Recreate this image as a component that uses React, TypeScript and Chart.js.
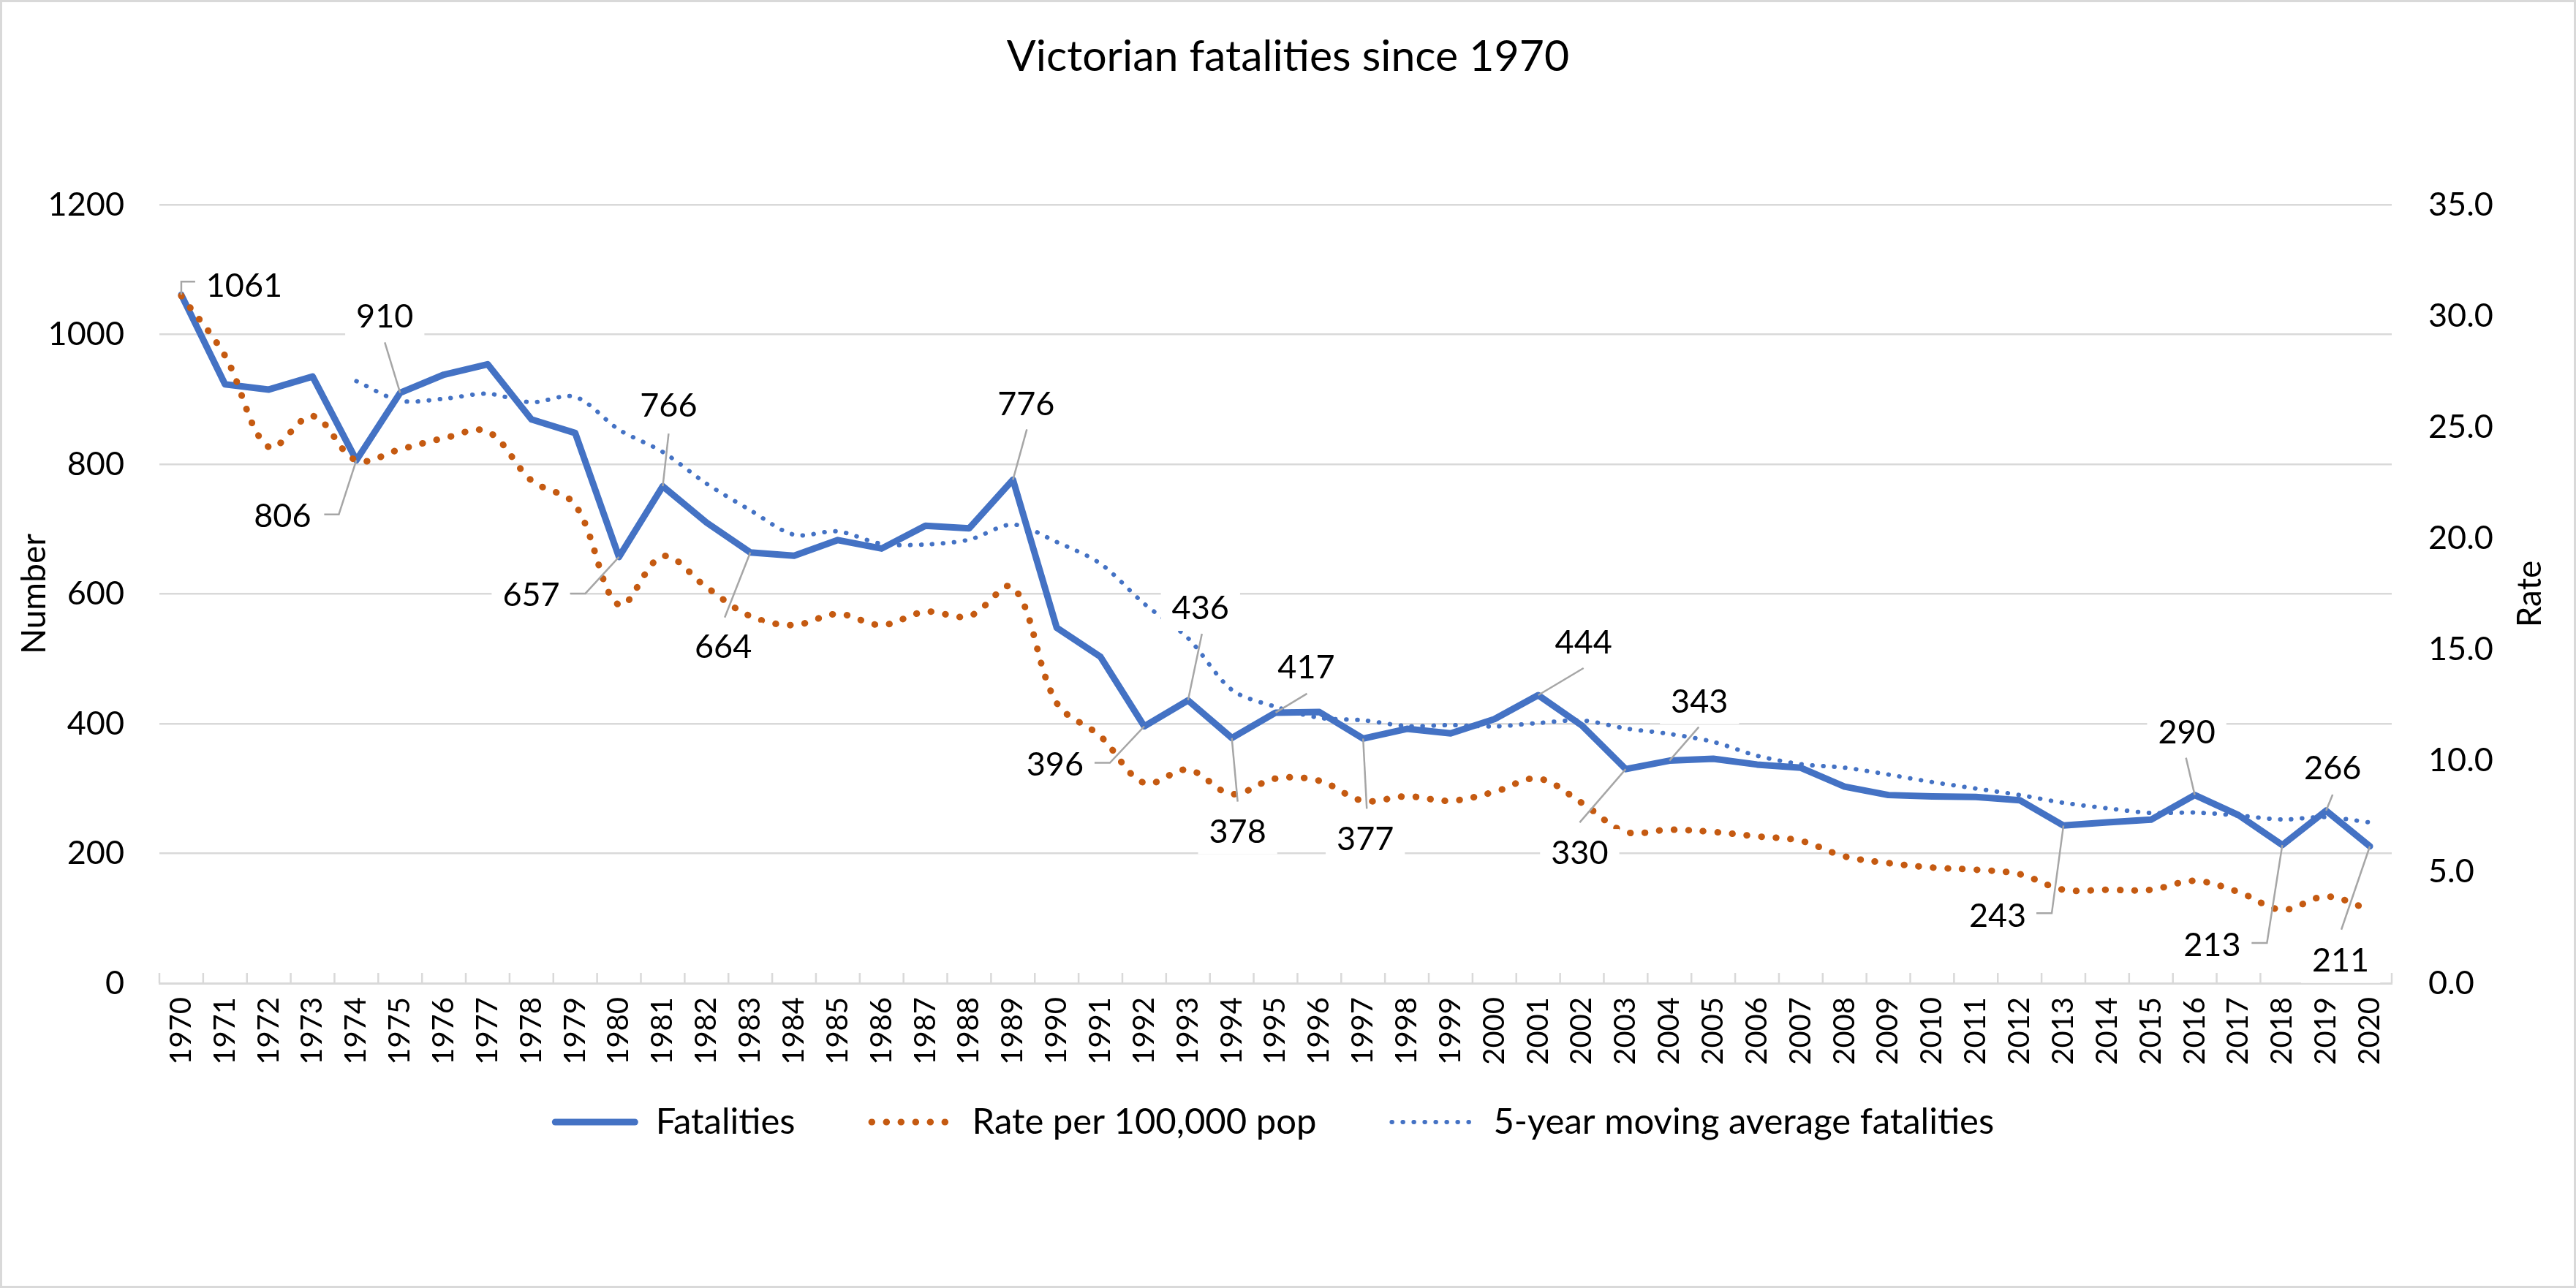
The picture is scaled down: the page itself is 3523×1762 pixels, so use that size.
import React, { useEffect, useRef } from 'react';
import { Chart, registerables } from 'chart.js';

Chart.register(...registerables);

// ---------- data ----------
const years = [
  '1970', '1971', '1972', '1973', '1974', '1975', '1976', '1977', '1978', '1979',
  '1980', '1981', '1982', '1983', '1984', '1985', '1986', '1987', '1988', '1989',
  '1990', '1991', '1992', '1993', '1994', '1995', '1996', '1997', '1998', '1999',
  '2000', '2001', '2002', '2003', '2004', '2005', '2006', '2007', '2008', '2009',
  '2010', '2011', '2012', '2013', '2014', '2015', '2016', '2017', '2018', '2019', '2020',
];

const fatalities = [
  1061, 923, 915, 935, 806, 910, 938, 954, 869, 848,
  657, 766, 710, 664, 659, 683, 670, 705, 701, 776,
  548, 503, 396, 436, 378, 417, 418, 377, 392, 385,
  407, 444, 397, 330, 343, 346, 337, 332, 303, 290,
  288, 287, 282, 243, 248, 252, 290, 259, 213, 266, 211,
];

const ratePer100k = [
  30.9, 28.2, 24.1, 25.5, 23.5, 24.0, 24.5, 24.8, 22.6, 21.5,
  17.0, 19.2, 17.8, 16.5, 16.1, 16.6, 16.1, 16.7, 16.5, 17.8,
  12.6, 11.1, 9.0, 9.6, 8.5, 9.2, 9.1, 8.2, 8.4, 8.2,
  8.6, 9.2, 8.1, 6.8, 6.9, 6.8, 6.6, 6.4, 5.7, 5.4,
  5.2, 5.1, 4.9, 4.2, 4.2, 4.2, 4.6, 4.1, 3.3, 3.9, 3.3,
];

const movingAverage5yr = [
  null, null, null, null, 928.0, 897.8, 900.8, 908.6, 895.4, 903.8,
  853.2, 818.8, 770.0, 729.0, 691.2, 696.4, 677.2, 676.2, 683.6, 707.0,
  680.0, 646.6, 584.8, 531.8, 452.2, 426.0, 409.0, 405.2, 396.4, 397.8,
  395.8, 401.0, 405.0, 392.6, 384.2, 372.0, 350.6, 337.6, 332.2, 321.6,
  310.0, 300.0, 290.0, 278.0, 269.6, 262.4, 263.0, 258.4, 252.4, 256.0, 247.8,
];

const labelledYears = [
  '1970', '1974', '1975', '1980', '1981', '1983', '1989', '1992', '1993', '1994',
  '1995', '1997', '2001', '2003', '2004', '2013', '2016', '2018', '2019', '2020',
];

// ---------- layout / style (not data) ----------
const FONT = 'Lato';
const BLUE = '#4472C4';
const ORANGE = '#C55A11';
const GRID = '#D9D9D9';

// label centre offset from its point (px) and leader polyline (offsets from point)
const labelLayout: { dx: number; dy: number; leader: number[][] }[] = [
  { dx: 86, dy: -14, leader: [[0, -18], [19, -18]] },
  { dx: -101, dy: 75, leader: [[-24, 74], [-44, 74]] },
  { dx: -21, dy: -106, leader: [[-21, -69]] },
  { dx: -120, dy: 51, leader: [[-46, 50], [-67, 50]] },
  { dx: 8, dy: -111, leader: [[8, -72]] },
  { dx: -37, dy: 128, leader: [[-35, 89]] },
  { dx: 18, dy: -105, leader: [[19, -69]] },
  { dx: -122, dy: 51, leader: [[-47, 50], [-68, 50]] },
  { dx: 17, dy: -127, leader: [[19, -91]] },
  { dx: 8, dy: 127, leader: [[8, 87]] },
  { dx: 42, dy: -63, leader: [[43, -26]] },
  { dx: 3, dy: 136, leader: [[5, 96]] },
  { dx: 62, dy: -73, leader: [[62, -37]] },
  { dx: -63, dy: 114, leader: [[-63, 73]] },
  { dx: 41, dy: -82, leader: [[40, -46]] },
  { dx: -90, dy: 122, leader: [[-16, 120], [-37, 120]] },
  { dx: -11, dy: -87, leader: [[-12, -51]] },
  { dx: -96, dy: 136, leader: [[-21, 134], [-42, 134]] },
  { dx: 9, dy: -59, leader: [[9, -22]] },
  { dx: -40, dy: 155, leader: [[-39, 114]] },
];

const decorPlugin = {
  id: 'decor',
  beforeDraw(chart: any) {
    const { ctx, width, height } = chart;
    ctx.save();
    ctx.fillStyle = '#ffffff';
    ctx.fillRect(0, 0, width, height);
    ctx.restore();
  },
  afterDraw(chart: any) {
    const { ctx, chartArea, scales, width, height } = chart;
    const xs = scales.x;
    const ys = scales.y;
    ctx.save();

    // inside tick marks on category axis
    ctx.strokeStyle = GRID;
    ctx.lineWidth = 2.5;
    const n = years.length;
    const step = (chartArea.right - chartArea.left) / n;
    for (let k = 0; k <= n; k++) {
      const xx = chartArea.left + k * step;
      ctx.beginPath();
      ctx.moveTo(xx, chartArea.bottom);
      ctx.lineTo(xx, chartArea.bottom - 14);
      ctx.stroke();
    }

    // chart border
    ctx.lineWidth = 3;
    ctx.strokeStyle = GRID;
    ctx.strokeRect(1.5, 1.5, width - 3, height - 3);

    // title
    ctx.fillStyle = '#000';
    ctx.textAlign = 'center';
    ctx.textBaseline = 'alphabetic';
    ctx.font = `59px ${FONT}`;
    ctx.fillText('Victorian fatalities since 1970', width / 2, 97);

    // axis titles
    const cy = (chartArea.top + chartArea.bottom) / 2;
    ctx.font = `46px ${FONT}`;
    ctx.save();
    ctx.translate(62, cy);
    ctx.rotate(-Math.PI / 2);
    ctx.fillText('Number', 0, 0);
    ctx.restore();
    ctx.save();
    ctx.translate(3475, cy);
    ctx.rotate(-Math.PI / 2);
    ctx.fillText('Rate', 0, 0);
    ctx.restore();

    // legend (drawn from the datasets' own styles)
    const lfs = 49;
    ctx.font = `${lfs}px ${FONT}`;
    const sample = 118;
    const gap = 24;
    const itemGap = 100;
    const dsList = chart.data.datasets;
    const tws = dsList.map((ds: any) => ctx.measureText(ds.label).width);
    const total = tws.reduce((s: number, tw: number) => s + sample + gap + tw, 0) + itemGap * (dsList.length - 1);
    let lx = 1741 - total / 2;
    const ly = 1535;
    dsList.forEach((ds: any, i: number) => {
      ctx.save();
      ctx.strokeStyle = ds.borderColor;
      ctx.lineWidth = ds.borderWidth;
      ctx.lineCap = ds.borderCapStyle || 'butt';
      ctx.setLineDash(ds.borderDash || []);
      ctx.beginPath();
      const inset = ds.borderWidth / 2;
      ctx.moveTo(lx + inset, ly);
      ctx.lineTo(lx + sample - inset, ly);
      ctx.stroke();
      ctx.restore();
      ctx.fillStyle = '#000';
      ctx.textAlign = 'left';
      ctx.textBaseline = 'alphabetic';
      ctx.fillText(ds.label, lx + sample + gap, 1551);
      lx += sample + gap + tws[i] + itemGap;
    });

    // data labels with leader lines
    const fs = 45;
    ctx.font = `${fs}px ${FONT}`;
    labelledYears.forEach((yr, j) => {
      const i = years.indexOf(yr);
      const v = fatalities[i];
      const px = xs.getPixelForValue(i);
      const py = ys.getPixelForValue(v);
      const L = labelLayout[j];
      const text = String(v);
      const tw = ctx.measureText(text).width;
      const cx = px + L.dx;
      const cyy = py + L.dy;
      ctx.fillStyle = '#fff';
      ctx.fillRect(cx - tw / 2 - 15, cyy - 32, tw + 30, 64);
      ctx.strokeStyle = '#A6A6A6';
      ctx.lineWidth = 2.5;
      ctx.beginPath();
      ctx.moveTo(px, py);
      L.leader.forEach(([a, b]) => ctx.lineTo(px + a, py + b));
      ctx.stroke();
      ctx.fillStyle = '#000';
      ctx.textAlign = 'center';
      ctx.textBaseline = 'alphabetic';
      ctx.fillText(text, cx, cyy + fs * 0.36);
    });

    ctx.restore();
  },
};

export default function App() {
  const canvasRef = useRef<HTMLCanvasElement | null>(null);

  useEffect(() => {
    document.body.style.margin = '0';
    document.body.style.overflow = 'hidden';
    const canvas = canvasRef.current;
    if (!canvas) return;
    Chart.defaults.font.family = FONT;
    Chart.defaults.color = '#000';

    const chart = new Chart(canvas, {
      type: 'line',
      data: {
        labels: years,
        datasets: [
          {
            label: 'Fatalities',
            data: fatalities,
            borderColor: BLUE,
            backgroundColor: BLUE,
            borderWidth: 9,
            borderCapStyle: 'round',
            borderJoinStyle: 'round',
            pointRadius: 0,
            tension: 0,
            yAxisID: 'y',
            order: 2,
          },
          {
            label: 'Rate per 100,000 pop',
            data: ratePer100k,
            borderColor: ORANGE,
            backgroundColor: ORANGE,
            borderWidth: 9,
            borderDash: [0.5, 19.5],
            borderCapStyle: 'round',
            pointRadius: 0,
            tension: 0.35,
            yAxisID: 'y1',
            order: 0,
          },
          {
            label: '5-year moving average fatalities',
            data: movingAverage5yr,
            borderColor: BLUE,
            backgroundColor: BLUE,
            borderWidth: 6,
            borderDash: [0.5, 14.5],
            borderCapStyle: 'round',
            pointRadius: 0,
            tension: 0.3,
            yAxisID: 'y',
            order: 1,
          },
        ] as any,
      },
      options: {
        responsive: false,
        animation: false,
        devicePixelRatio: 1,
        layout: { padding: { top: 280, left: 0, right: 40, bottom: 267 } },
        plugins: {
          title: { display: false },
          tooltip: { enabled: false },
          legend: { display: false },
        },
        scales: {
          x: {
            type: 'category',
            offset: true,
            grid: { display: false, drawTicks: false },
            border: { display: true, color: GRID, width: 3 },
            ticks: {
              autoSkip: false,
              minRotation: 90,
              maxRotation: 90,
              padding: 19,
              color: '#000',
              font: { size: 40, family: FONT },
            },
            afterFit: (s: any) => {
              s.height = 150;
            },
          },
          y: {
            position: 'left',
            min: 0,
            max: 1200,
            ticks: {
              stepSize: 200,
              padding: 48,
              color: '#000',
              font: { size: 45, family: FONT },
              callback: (v: any) => String(v),
            },
            grid: { color: GRID, lineWidth: 2.5, drawTicks: false },
            border: { display: false },
            afterFit: (s: any) => {
              s.width = 218;
            },
          },
          y1: {
            position: 'right',
            min: 0,
            max: 35,
            ticks: {
              stepSize: 5,
              padding: 50,
              color: '#000',
              font: { size: 45, family: FONT },
              callback: (v: any) => Number(v).toFixed(1),
            },
            grid: { display: false, drawOnChartArea: false, drawTicks: false },
            border: { display: false },
            afterFit: (s: any) => {
              s.width = 212;
            },
          },
        },
      } as any,
      plugins: [decorPlugin],
    });

    return () => {
      chart.destroy();
    };
  }, []);

  return (
    <div style={{ position: 'absolute', left: 0, top: 0, width: 3523, height: 1762 }}>
      <canvas ref={canvasRef} width={3523} height={1762} style={{ width: 3523, height: 1762, display: 'block' }} />
    </div>
  );
}
